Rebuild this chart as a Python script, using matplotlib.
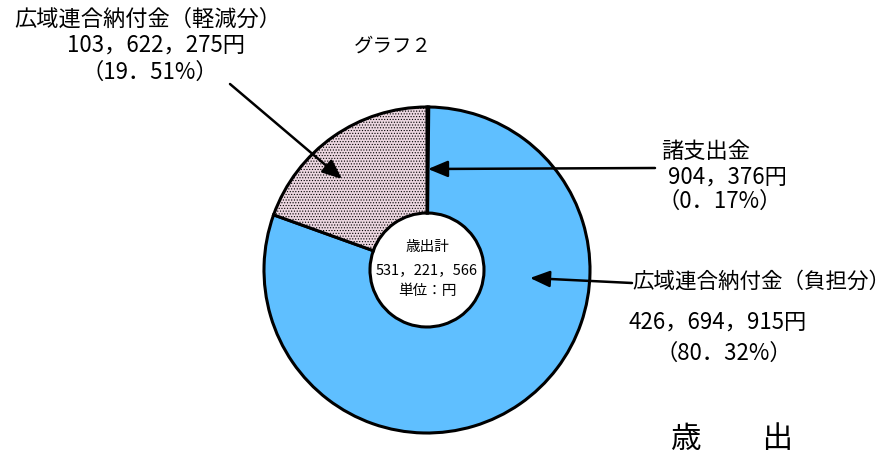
import matplotlib
matplotlib.use("Agg")
import matplotlib.pyplot as plt

plt.rcParams['font.family'] = ['Noto Sans CJK JP', 'DejaVu Sans']
plt.rcParams['hatch.color'] = '#a08c98'
plt.rcParams['hatch.linewidth'] = 0.5

# Data (clockwise from 12 o'clock)
labels = ["諸支出金", "広域連合納付金（負担分）", "広域連合納付金（軽減分）"]
amounts = [904376, 426694915, 103622275]
amount_text = ["904，376円", "426，694，915円", "103，622，275円"]
pct_text = ["（0．17%）", "（80．32%）", "（19．51%）"]
colors = ["#000000", "#5fbfff", "#ecd6e0"]
hatches = [None, None, "......"]
total_text = ["歳出計", "531，221，566", "単位：円"]

W, H = 895, 459
fig = plt.figure(figsize=(W / 100, H / 100), dpi=100)
ax = fig.add_axes([0, 0, 1, 1])
ax.set_xlim(0, W)
ax.set_ylim(0, H)
ax.set_aspect("equal")
ax.axis("off")


def Y(y):
    # pixel row (from top) -> data y
    return H - y


cx, cy, r_out, r_in = 427, Y(270), 163, 57
wedges, _ = ax.pie(amounts, startangle=90, counterclock=False,
                   colors=colors, center=(cx, cy), radius=r_out,
                   wedgeprops=dict(width=r_out - r_in, edgecolor="black",
                                   linewidth=2.2))
for w, h in zip(wedges, hatches):
    if h:
        w.set_hatch(h)
ax.set_xlim(0, W)
ax.set_ylim(0, H)

# centre text
for txt, y in zip(total_text, [247, 270, 291]):
    ax.text(cx, Y(y), txt, ha="center", va="center", fontsize=10.5)

# labels
fs = 16
ax.text(148, Y(19), labels[2], ha="center", va="center", fontsize=fs)
ax.text(156, Y(45), amount_text[2], ha="center", va="center", fontsize=fs)
ax.text(150, Y(72), pct_text[2], ha="center", va="center", fontsize=fs)

ax.text(393, Y(46), "グラフ２", ha="center", va="center", fontsize=14)

ax.text(706, Y(151), labels[0], ha="center", va="center", fontsize=fs)
ax.text(727, Y(177), amount_text[0], ha="center", va="center", fontsize=fs)
ax.text(720, Y(201), pct_text[0], ha="center", va="center", fontsize=fs)

ax.text(632, Y(282), labels[1], ha="left", va="center", fontsize=15.5)
ax.text(718, Y(322), amount_text[1], ha="center", va="center", fontsize=fs)
ax.text(724, Y(353), pct_text[1], ha="center", va="center", fontsize=fs)

ax.text(732, Y(440), "歳　　出", ha="center", va="center", fontsize=22)

# arrows
arrow = dict(arrowstyle="-|>,head_length=1.2,head_width=0.5", color="black",
             lw=1.8, shrinkA=0, shrinkB=0)
ax.annotate("", xy=(342, Y(179)), xytext=(230, Y(84)), arrowprops=arrow)
ax.annotate("", xy=(428, Y(169)), xytext=(655, Y(168)), arrowprops=arrow)
ax.annotate("", xy=(530, Y(278)), xytext=(632, Y(283)), arrowprops=arrow)

fig.savefig("out.png", dpi=100)
